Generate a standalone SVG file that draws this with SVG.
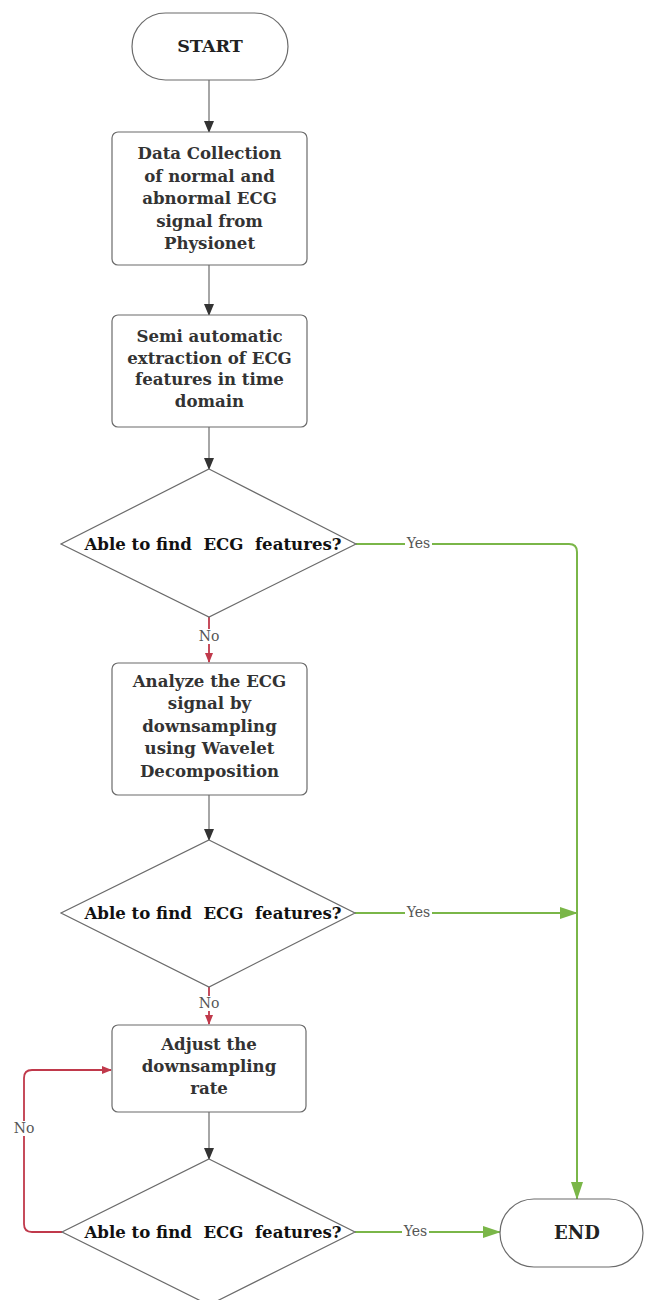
<svg xmlns="http://www.w3.org/2000/svg" width="645" height="1300" viewBox="0 0 645 1300">
<defs>
<style>
.shape{fill:#fff;stroke:#6b6b6b;stroke-width:1.2}
.bt{font-family:"DejaVu Serif","Liberation Serif",serif;font-weight:bold;font-size:16.6px;fill:#333;text-anchor:middle}
.dt{font-family:"DejaVu Serif","Liberation Serif",serif;font-weight:bold;font-size:16.6px;fill:#111;text-anchor:middle}
.tt{font-family:"DejaVu Serif","Liberation Serif",serif;font-weight:bold;font-size:17.5px;fill:#222;text-anchor:middle}
.lbl{font-family:"DejaVu Serif","Liberation Serif",serif;font-size:14px;fill:#555;text-anchor:middle}
.gray{fill:none;stroke:#6b6b6b;stroke-width:1.2}
.red{fill:none;stroke:#c0394b;stroke-width:1.8}
.green{fill:none;stroke:#7ab648;stroke-width:2}
</style>
<marker id="ag" markerWidth="12" markerHeight="12" viewBox="0 0 12 12" refX="11" refY="6" orient="auto" markerUnits="userSpaceOnUse"><path d="M0,1 L12,6 L0,11 Z" fill="#333"/></marker>
<marker id="ar" markerWidth="10" markerHeight="10" viewBox="0 0 10 10" refX="9" refY="5" orient="auto" markerUnits="userSpaceOnUse"><path d="M0,1 L10,5 L0,9 Z" fill="#c0394b"/></marker>
<marker id="agr" markerWidth="18" markerHeight="14" viewBox="0 0 18 14" refX="17" refY="7" orient="auto" markerUnits="userSpaceOnUse"><path d="M0,1 L18,7 L0,13 Z" fill="#7ab648"/></marker>
</defs>
<rect width="645" height="1300" fill="#fff"/>

<g id="connectors">
<line class="gray" x1="209" y1="80" x2="209" y2="132" marker-end="url(#ag)"/>
<line class="gray" x1="209" y1="265" x2="209" y2="315" marker-end="url(#ag)"/>
<line class="gray" x1="209" y1="427" x2="209" y2="469" marker-end="url(#ag)"/>
<line class="gray" x1="209" y1="795" x2="209" y2="840" marker-end="url(#ag)"/>
<line class="gray" x1="209" y1="1112" x2="209" y2="1159" marker-end="url(#ag)"/>
<line class="red" x1="209" y1="617" x2="209" y2="662" marker-end="url(#ar)"/>
<line class="red" x1="209" y1="987" x2="209" y2="1024" marker-end="url(#ar)"/>
<path class="red" d="M62,1232 H32 Q24,1232 24,1224 V1078 Q24,1070 32,1070 H111" marker-end="url(#ar)"/>
<path class="green" d="M356,544 H569 Q577,544 577,552 V1199" marker-end="url(#agr)"/>
<line class="green" x1="355" y1="913" x2="577" y2="913" marker-end="url(#agr)"/>
<line class="green" x1="355" y1="1232" x2="500" y2="1232" marker-end="url(#agr)"/>
<rect x="405" y="536" width="27" height="15" fill="#fff"/>
<text class="lbl" x="418.5" y="548">Yes</text>
<rect x="405" y="905" width="27" height="15" fill="#fff"/>
<text class="lbl" x="418.5" y="917">Yes</text>
<rect x="402" y="1224" width="27" height="15" fill="#fff"/>
<text class="lbl" x="415.5" y="1236">Yes</text>
<rect x="197" y="629" width="24" height="15" fill="#fff"/>
<text class="lbl" x="209" y="641">No</text>
<rect x="197" y="996" width="24" height="15" fill="#fff"/>
<text class="lbl" x="209" y="1008">No</text>
<rect x="12" y="1121" width="24" height="15" fill="#fff"/>
<text class="lbl" x="24" y="1133">No</text>
</g>

<g id="start">
<rect class="shape" x="132" y="13" width="156" height="67" rx="33.5"/>
<text class="tt" x="210" y="52">START</text>
</g>

<g id="data-collection">
<rect class="shape" x="112" y="132" width="195" height="133" rx="6"/>
<text class="bt" x="209.5" y="159">Data Collection</text>
<text class="bt" x="209.5" y="181.5">of normal and</text>
<text class="bt" x="209.5" y="204">abnormal ECG</text>
<text class="bt" x="209.5" y="226.5">signal from</text>
<text class="bt" x="209.5" y="249">Physionet</text>
</g>

<g id="extraction">
<rect class="shape" x="112" y="315" width="195" height="112" rx="6"/>
<text class="bt" x="209.5" y="342">Semi automatic</text>
<text class="bt" x="209.5" y="363.5">extraction of ECG</text>
<text class="bt" x="209.5" y="385">features in time</text>
<text class="bt" x="209.5" y="406.5">domain</text>
</g>

<g id="decision1">
<polygon class="shape" points="209,469 356,544 209,617 61,544"/>
<text class="dt" x="213" y="550" xml:space="preserve">Able to find  ECG  features?</text>
</g>

<g id="wavelet">
<rect class="shape" x="112" y="663" width="195" height="132" rx="6"/>
<text class="bt" x="209.5" y="687">Analyze the ECG</text>
<text class="bt" x="209.5" y="709">signal by</text>
<text class="bt" x="209.5" y="731.5">downsampling</text>
<text class="bt" x="209.5" y="754">using Wavelet</text>
<text class="bt" x="209.5" y="776.5">Decomposition</text>
</g>

<g id="decision2">
<polygon class="shape" points="209,840 355,913 209,987 61,913"/>
<text class="dt" x="213" y="919" xml:space="preserve">Able to find  ECG  features?</text>
</g>

<g id="adjust">
<rect class="shape" x="112" y="1025" width="194" height="87" rx="6"/>
<text class="bt" x="209" y="1050">Adjust the</text>
<text class="bt" x="209" y="1072">downsampling</text>
<text class="bt" x="209" y="1093.5">rate</text>
</g>

<g id="decision3">
<polygon class="shape" points="209,1159 355,1232 209,1305 62,1232"/>
<text class="dt" x="213" y="1238" xml:space="preserve">Able to find  ECG  features?</text>
</g>

<g id="end">
<rect class="shape" x="500" y="1199" width="143" height="68" rx="34"/>
<text class="tt" style="font-size:18px" x="577" y="1239">END</text>
</g>
</svg>
